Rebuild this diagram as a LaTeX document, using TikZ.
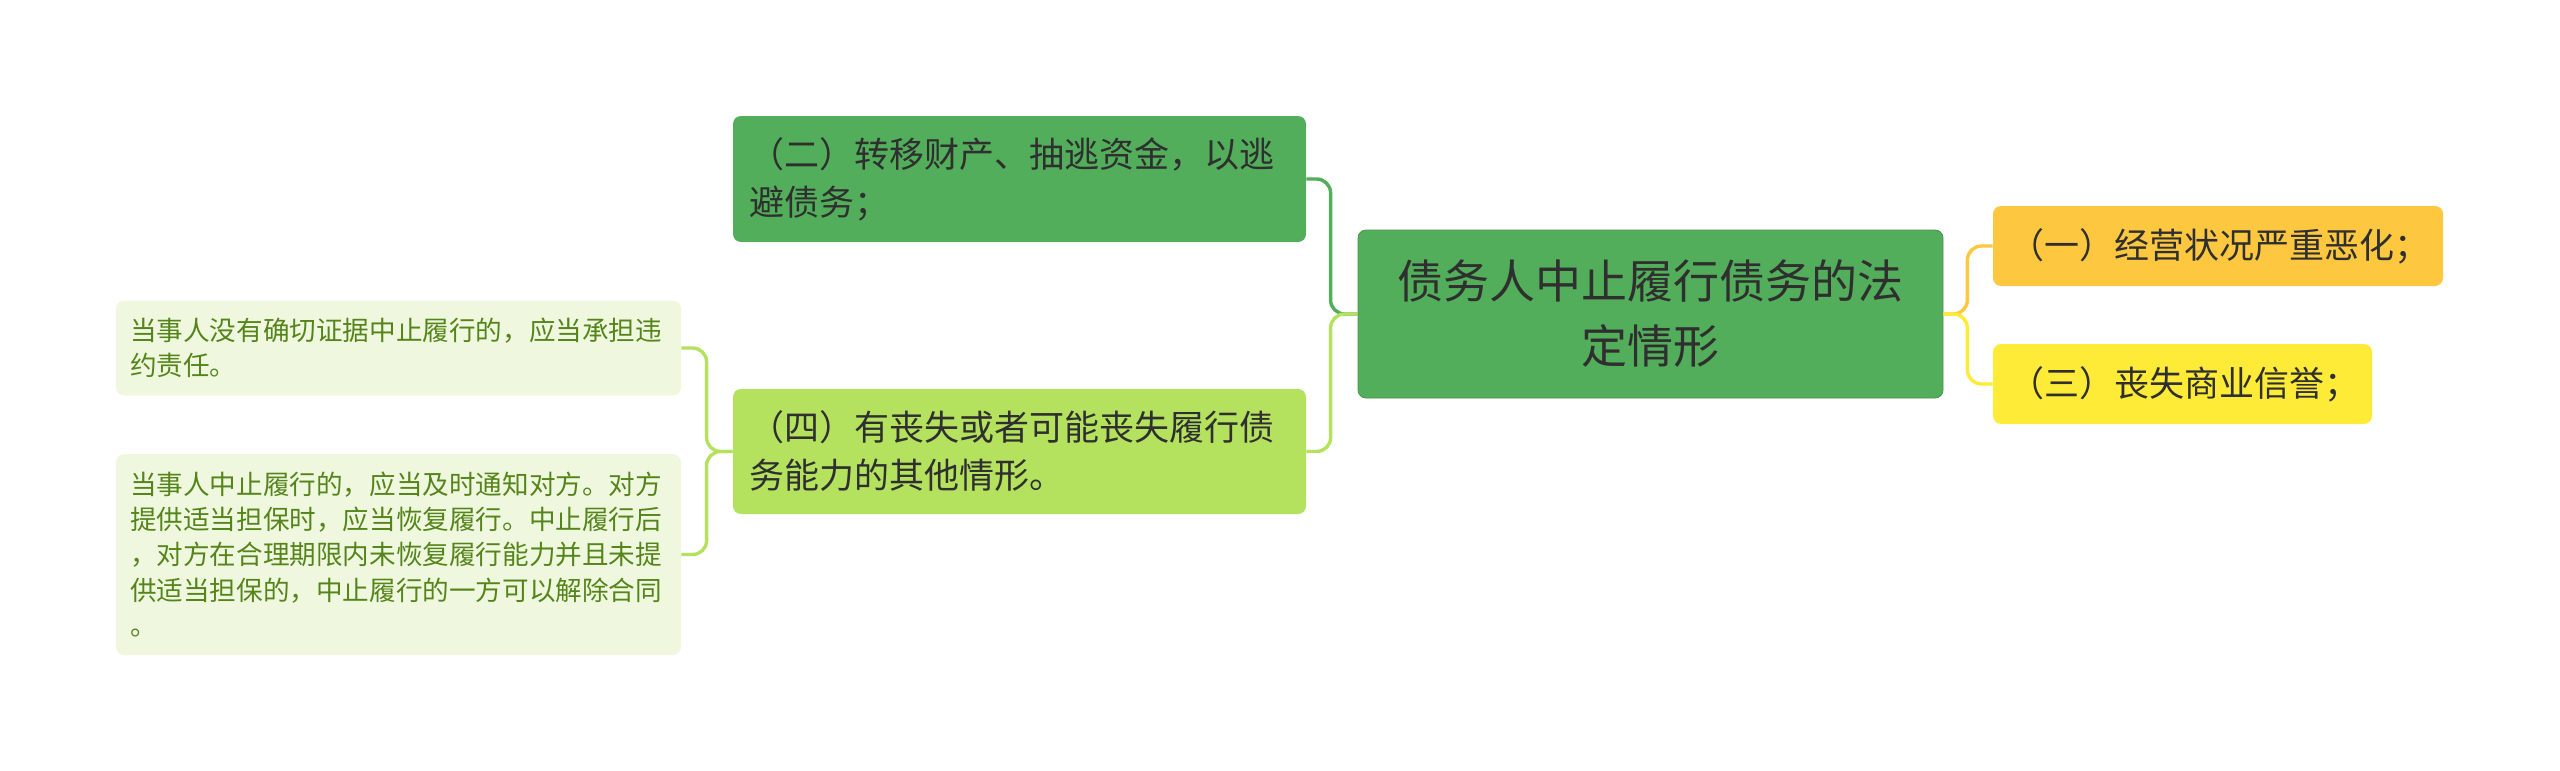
\documentclass[tikz,border=0pt]{standalone}
\usepackage{fontspec}
\setmainfont{Noto Sans CJK SC}
\usepackage{tikz}
\definecolor{darkgreen}{HTML}{52AE5A}
\definecolor{limegreen}{HTML}{B4E25F}
\definecolor{paleleaf}{HTML}{EFF8DF}
\definecolor{leaftext}{HTML}{55851A}
\definecolor{orangetopic}{HTML}{FDC83F}
\definecolor{yellowtopic}{HTML}{FDEB37}
\definecolor{inktext}{HTML}{2F2F2F}
\tikzset{
  font={\fontsize{17.5pt}{24pt}\selectfont}}

\begin{document}
\begin{tikzpicture}[x=0.5pt,y=-0.5pt]
\tikzstyle{every node}+=[rounded corners=4pt, inner ysep=0pt, text=inktext]
\tikzstyle{topic}=[inner xsep=8pt, align=left]
\tikzstyle{leaf}=[fill=paleleaf, text=leaftext, inner xsep=7pt, align=left, text width=268.5pt,
  font={\fontsize{13.3pt}{17.7pt}\selectfont}]
\tikzstyle{link}=[line width=1.7pt, rounded corners=7pt]
\useasboundingbox (0,0) rectangle (2560,771);
% central topic
\node [fill=darkgreen, draw=darkgreen!85!black, line width=0.4pt, align=center,
  minimum width=292.5pt, minimum height=84pt,
  font={\fontsize{23pt}{32.5pt}\selectfont}] (root) at (1650.5,314)
  {债务人中止履行债务的法\\定情形};
% left side
\node [topic, fill=darkgreen, text width=270.5pt, minimum height=63pt] (two) at (1019.5,179)
  {（二）转移财产、抽逃资金，以逃\\避债务；};
\node [topic, fill=limegreen, text width=270.5pt, minimum height=62.5pt] (four) at (1019.5,451.5)
  {（四）有丧失或者可能丧失履行债\\务能力的其他情形。};
\node [leaf, minimum height=47.5pt] (shortleaf) at (398.5,348)
  {当事人没有确切证据中止履行的，应当承担违\\约责任。};
\node [leaf, minimum height=100.5pt] (longleaf) at (398.5,554.5)
  {当事人中止履行的，应当及时通知对方。对方\\提供适当担保时，应当恢复履行。中止履行后\\，对方在合理期限内未恢复履行能力并且未提\\供适当担保的，中止履行的一方可以解除合同\\。};
% right side
\node [topic, fill=orangetopic, text width=209pt, minimum height=40pt] (one) at (2218,246)
  {（一）经营状况严重恶化；};
\node [topic, fill=yellowtopic, text width=173.5pt, minimum height=40pt] (three) at (2182.5,384)
  {（三）丧失商业信誉；};
% connectors
\draw [link, darkgreen] (root.west) -- ++(-27,0) |- (two.east);
\draw [link, limegreen] (root.west) -- ++(-27,0) |- (four.east);
\draw [link, limegreen] (four.west) -- ++(-26,0) |- (shortleaf.east);
\draw [link, limegreen] (four.west) -- ++(-26,0) |- (longleaf.east);
\draw [link, orangetopic] (root.east) -- ++(24,0) |- (one.west);
\draw [link, yellowtopic] (root.east) -- ++(24,0) |- (three.west);
\end{tikzpicture}
\end{document}
